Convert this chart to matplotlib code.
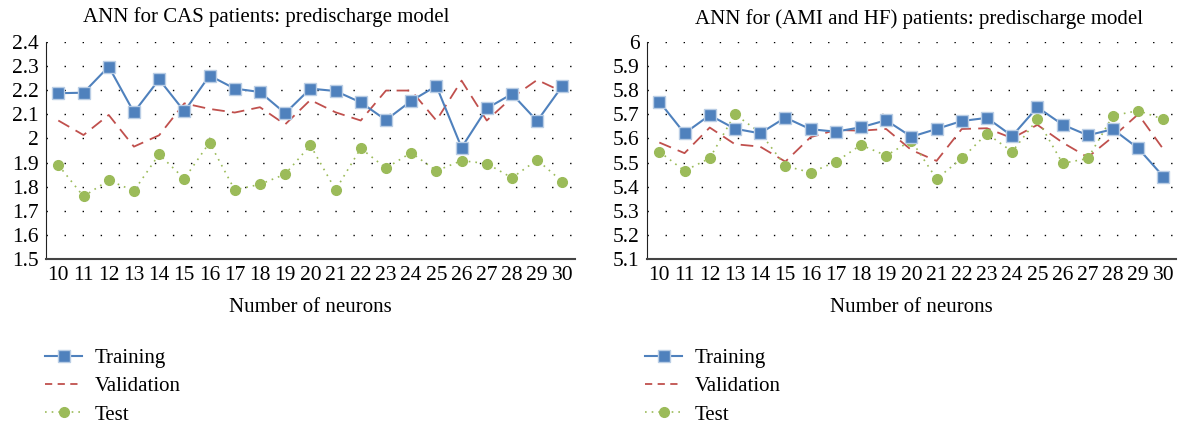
import numpy as np
import matplotlib.pyplot as plt
from matplotlib.lines import Line2D

plt.rcParams['font.family'] = ['Liberation Serif', 'DejaVu Serif']

neurons = list(range(10, 31))

# CAS patients
cas_train = [2.187, 2.189, 2.297, 2.108, 2.244, 2.112, 2.260, 2.206, 2.192, 2.104,
             2.206, 2.196, 2.149, 2.076, 2.155, 2.217, 1.962, 2.124, 2.184, 2.072, 2.217]
cas_valid = [2.074, 2.014, 2.097, 1.966, 2.013, 2.145, 2.122, 2.107, 2.129, 2.058,
             2.159, 2.108, 2.074, 2.198, 2.198, 2.074, 2.239, 2.074, 2.169, 2.242, 2.193]
cas_test = [1.890, 1.760, 1.827, 1.783, 1.934, 1.833, 1.983, 1.787, 1.810, 1.852,
            1.972, 1.787, 1.959, 1.877, 1.941, 1.866, 1.908, 1.896, 1.837, 1.911, 1.821]

# AMI and HF patients
ami_train = [5.752, 5.621, 5.696, 5.640, 5.621, 5.686, 5.638, 5.628, 5.646, 5.675,
             5.607, 5.639, 5.672, 5.685, 5.610, 5.729, 5.657, 5.613, 5.638, 5.559, 5.442]
ami_valid = [5.583, 5.539, 5.645, 5.576, 5.566, 5.504, 5.605, 5.635, 5.632, 5.639,
             5.552, 5.507, 5.639, 5.642, 5.601, 5.656, 5.583, 5.522, 5.607, 5.700, 5.555]
ami_test = [5.545, 5.466, 5.518, 5.700, 5.624, 5.486, 5.459, 5.503, 5.573, 5.529,
            5.591, 5.433, 5.517, 5.620, 5.545, 5.679, 5.497, 5.517, 5.694, 5.715, 5.679]

blue = '#4F81BD'
red = '#C0504D'
green = '#9BBB59'

fig = plt.figure(figsize=(11.78, 4.23), dpi=100)

def draw(ax, train, valid, test, ymin, ymax):
    ax.plot(neurons, valid, color=red, lw=1.3, ls=(0, (7, 4)), zorder=3)
    ax.plot(neurons, test, color=green, lw=1.2, ls=(0, (1, 3)), marker='o',
            ms=7, mec=green, mfc=green, zorder=4)
    ax.plot(neurons, train, color=blue, lw=1.5, marker='s', ms=8,
            mfc=blue, mec='#B9CDE5', mew=1.0, zorder=5)
    ax.set_xlim(9.5, 30.5)
    ax.set_ylim(ymin, ymax)
    ax.set_xticks(neurons)
    ax.set_yticks(np.round(np.arange(ymin, ymax + 0.001, 0.1), 1))
    ax.yaxis.set_major_formatter(plt.FuncFormatter(lambda v, p: f'{v:g}'))
    for v in np.arange(ymin + 0.1, ymax + 0.001, 0.1):
        ax.axhline(v, color='black', lw=1.0, ls=(0, (1, 12)), zorder=1)
    ax.spines['top'].set_visible(False)
    ax.spines['right'].set_visible(False)
    ax.spines['left'].set_color('#222222')
    ax.spines['bottom'].set_color('#444444')
    ax.spines['bottom'].set_linewidth(1.5)
    ax.tick_params(length=0, labelsize=15.5, pad=5)
    ax.set_xlabel('Number of neurons', fontsize=15, labelpad=9)

ax1 = fig.add_axes([0.0388, 0.387, 0.4493, 0.5144])
draw(ax1, cas_train, cas_valid, cas_test, 1.5, 2.4)
ax2 = fig.add_axes([0.549, 0.387, 0.4493, 0.5144])
draw(ax2, ami_train, ami_valid, ami_test, 5.1, 6.0)

fig.text(266 / 1178, 1 - 17 / 423, 'ANN for CAS patients: predischarge model',
         ha='center', va='center', fontsize=15)
fig.text(919 / 1178, 1 - 19 / 423, 'ANN for (AMI and HF) patients: predischarge model',
         ha='center', va='center', fontsize=15)

handles = [
    Line2D([], [], color=blue, lw=1.5, marker='s', ms=8, mfc=blue, mec='#B9CDE5'),
    Line2D([], [], color=red, lw=1.3, ls=(0, (4, 3))),
    Line2D([], [], color=green, lw=1.2, ls=(0, (1, 3)), marker='o', ms=7, mec=green),
]
labels = ['Training', 'Validation', 'Test']
for x0 in (37 / 1178, 637 / 1178):
    fig.legend(handles, labels, loc='upper left', bbox_to_anchor=(x0, 1 - 340 / 423),
               frameon=False, fontsize=15, handlelength=1.75, labelspacing=0.42,
               handletextpad=0.6, borderaxespad=0)

fig.savefig('out.png', dpi=100)
